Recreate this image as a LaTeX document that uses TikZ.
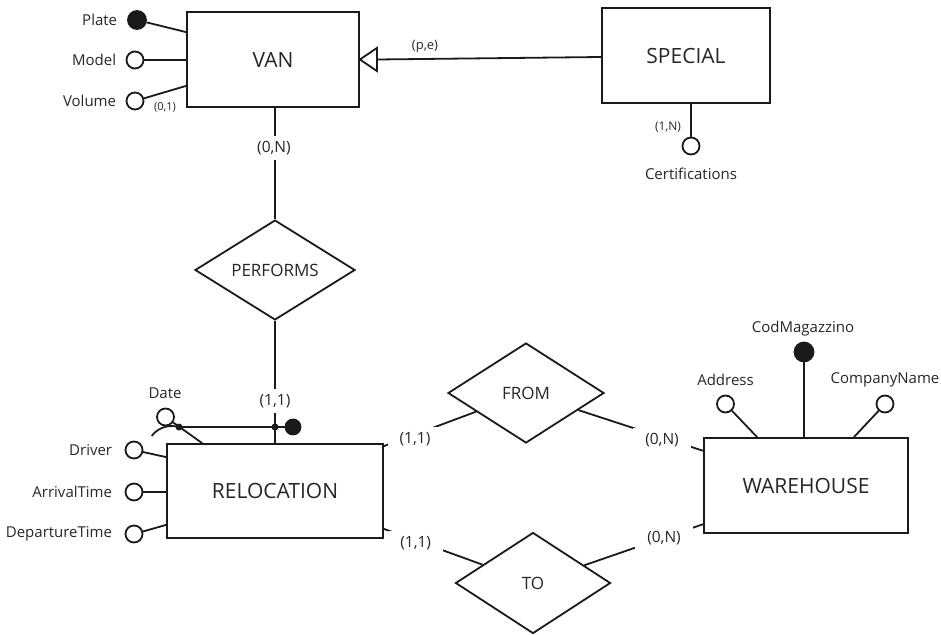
\documentclass[tikz,border=0pt]{standalone}
\usepackage{fontspec}
\setmainfont{Open Sans}
\usetikzlibrary{shapes.geometric,calc}
\definecolor{ink}{HTML}{1A1A1A}
\definecolor{txt}{HTML}{262626}
\begin{document}
\begin{tikzpicture}[x=1pt,y=-1pt, line width=1.8pt, color=ink,
  entity/.style={draw=ink, rectangle, inner sep=0pt, text=txt, font=\fontsize{21}{25}\selectfont},
  relship/.style={draw=ink, diamond, inner sep=0pt, text=txt, font=\fontsize{17}{20}\selectfont},
  attr/.style={draw=ink, circle, minimum size=17pt, inner sep=0pt, fill=white},
  keyattr/.style={draw=ink, circle, minimum size=18pt, inner sep=0pt, fill=ink},
  dotnode/.style={circle, fill=ink, minimum size=7pt, inner sep=0pt},
  lbl/.style={text=txt, font=\fontsize{15}{18}\selectfont, inner sep=0pt},
  card/.style={text=txt, font=\fontsize{15.5}{18}\selectfont, fill=white, inner xsep=12pt, inner ysep=5pt},
  smallcard/.style={text=txt, inner sep=0pt}
]
\useasboundingbox (0,0) rectangle (941,634);

% entities
\node[entity, minimum width=172pt, minimum height=95pt] (van) at (273,59.5) {VAN};
\node[entity, minimum width=168pt, minimum height=95pt] (special) at (686,55.5) {SPECIAL};
\node[entity, minimum width=216pt, minimum height=94pt] (reloc) at (275,491) {RELOCATION};
\node[entity, minimum width=204pt, minimum height=95pt] (wh) at (806,485.5) {WAREHOUSE};

% relationships
\node[relship, minimum width=160pt, minimum height=92pt] (perf) at (275,270) {PERFORMS};
\node[relship, minimum width=156pt, minimum height=100pt] (from) at (526,393) {FROM};
\node[relship, minimum width=155pt, minimum height=101pt] (to) at (533,583) {TO};

% VAN attributes
\node[keyattr] (plate) at (137,20) {};
\node[lbl, anchor=east] (plateL) at (118,20) {Plate};
\draw (plate) -- ([yshift=-21pt]van.north west);
\node[attr] (model) at (135,60) {};
\node[lbl, anchor=east] (modelL) at (117,60) {Model};
\draw (model) -- (model -| van.west);
\node[attr] (volume) at (135,101) {};
\node[lbl, anchor=east] (volumeL) at (117,101) {Volume};
\draw (volume) -- ([yshift=22pt]van.south west);
\node[smallcard, font=\fontsize{11}{13}\selectfont] (volcard) at (165,107) {(0,1)};

% generalization
\draw (van.east) -- ++(17,-11.5) -- ++(0,23) -- cycle;
\coordinate (isa) at ([xshift=17pt]van.east);
\draw ([yshift=-1.5pt]special.west) -- (isa);
\node[smallcard, font=\fontsize{13}{15}\selectfont] (pe) at (425,46) {(p,e)};

% SPECIAL attribute
\node[attr] (cert) at (691,146) {};
\draw ([xshift=5pt]special.south) -- (cert);
\node[smallcard, font=\fontsize{12}{14}\selectfont] (certcard) at (668,127) {(1,N)};
\node[lbl] (certL) at (691,174) {Certifications};

% PERFORMS
\draw (perf.north) -- (perf.north |- van.south);
\node[card] (c1) at (274,148) {(0,N)};
\draw (perf.south) -- (perf.south |- reloc.north);
\node[card] (c2) at (275,401) {(1,1)};

% identifier of RELOCATION
\node[dotnode] (d1) at (179,427) {};
\node[dotnode] (d2) at (275,427) {};
\node[keyattr, minimum size=15pt] (idk) at (293,427) {};
\draw (d1.center) -- (idk);
\node[attr] (date) at (165.5,417) {};
\draw ([xshift=36pt]reloc.north west) -- (date);
\node[lbl] (dateL) at (165,393) {Date};
\draw (151.7,436) .. controls (157.4,428.2) and (167.3,424.6) .. (176.8,426.5);

% RELOCATION attributes
\node[attr] (driver) at (134,450) {};
\node[lbl, anchor=east] (driverL) at (113,450) {Driver};
\draw (driver) -- ([yshift=-14pt]reloc.north west);
\node[attr] (arr) at (134,492) {};
\node[lbl, anchor=east] (arrL) at (113,492) {ArrivalTime};
\draw (arr) -- (arr -| reloc.west);
\node[attr] (dep) at (134,534) {};
\node[lbl, anchor=east] (depL) at (113,534) {DepartureTime};
\draw (dep) -- ([yshift=14pt]reloc.south west);

% FROM / TO
\draw ([yshift=-3pt]reloc.north east) -- (from);
\node[card] (c3) at (415,439) {(1,1)};
\draw (from) -- ([yshift=-13.7pt]wh.north west);
\node[card] (c4) at (662,440) {(0,N)};
\draw ([yshift=10pt]reloc.south east) -- (to);
\node[card] (c5) at (415.7,543) {(1,1)};
\draw (to) -- ([yshift=9.7pt]wh.south west);
\node[card] (c6) at (664,538) {(0,N)};

% WAREHOUSE attributes
\node[keyattr, minimum size=19pt] (cod) at (804,352) {};
\draw (cod) -- (cod |- wh.north);
\node[lbl] (codL) at (803,329) {CodMagazzino};
\node[attr] (addr) at (725.5,404) {};
\draw (addr) -- ([xshift=54pt]wh.north west);
\node[lbl] (addrL) at (725.5,380) {Address};
\node[attr] (comp) at (885,404) {};
\draw (comp) -- ([xshift=-55pt]wh.north east);
\node[lbl] (compL) at (885,380) {CompanyName};
\end{tikzpicture}
\end{document}
